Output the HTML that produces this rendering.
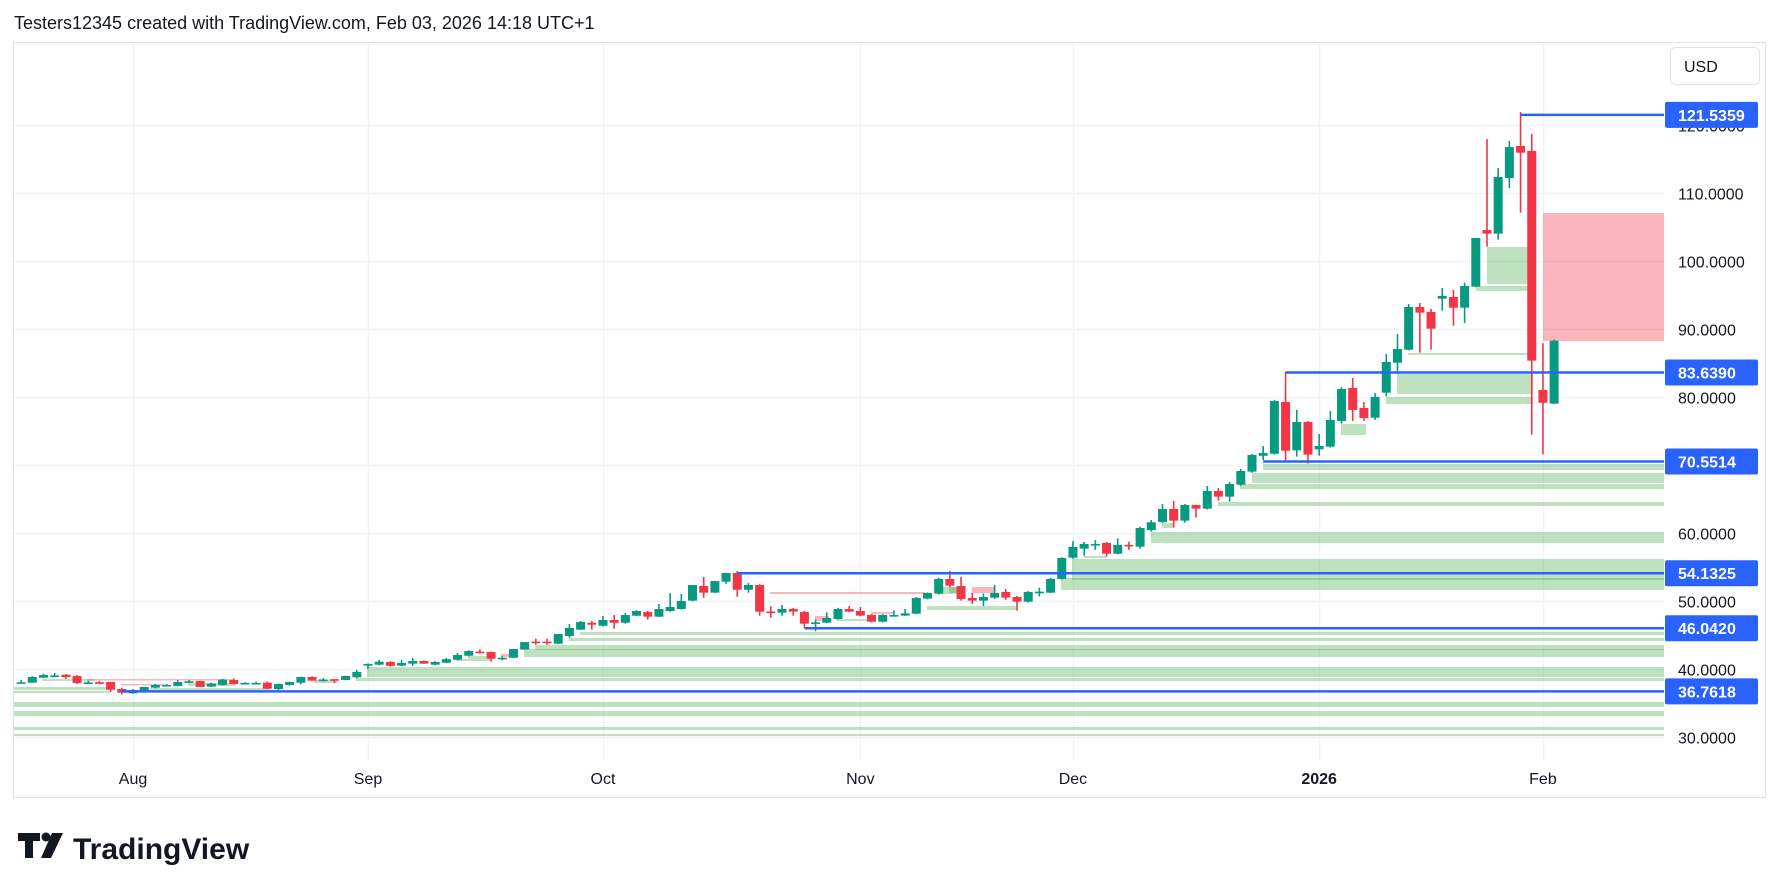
<!DOCTYPE html>
<html>
<head>
<meta charset="utf-8">
<style>
  html,body{margin:0;padding:0;background:#fff;}
  body{width:1781px;height:886px;overflow:hidden;font-family:"Liberation Sans",sans-serif;}
  svg text{font-family:"Liberation Sans",sans-serif;}
</style>
</head>
<body>
<svg id="chart" width="1781" height="886" viewBox="0 0 1781 886" xmlns="http://www.w3.org/2000/svg">
  <text x="14" y="29" font-size="18" fill="#131722">Testers12345 created with TradingView.com, Feb 03, 2026 14:18 UTC+1</text>
  <rect x="13.5" y="42.5" width="1752" height="755" fill="#fff" stroke="#e0e3eb"/>
  <g id="grid"></g>
  <g id="zones"></g>
  <g id="candles"></g>
  <g id="levels"></g>
  <g id="axes"></g>
  <g>
    <rect x="1670.5" y="47.5" width="89" height="37" rx="5" fill="#fff" stroke="#e0e3eb"/>
    <text x="1684" y="72" font-size="16" fill="#131722">USD</text>
  </g>
  <g>
    <path d="M18 833 h22 v8 h-7 v17 h-8 v-17 h-7 z" fill="#131722"/>
    <circle cx="46" cy="837" r="4.5" fill="#131722"/>
    <path d="M52 833 h11 l-12 25 h-10 z" fill="#131722"/>
    <text x="73" y="859" font-size="30" font-weight="bold" fill="#131722">TradingView</text>
  </g>
</svg>
<script>
const opens  = [38.0,38.03,38.77,39.05,39.2,39.0,37.95,38.1,38.13,37.1,36.47,36.8,37.3,37.65,37.55,38.2,38.28,37.45,37.7,38.43,37.95,37.95,38.03,37.1,37.7,38.03,38.87,38.45,38.55,38.43,38.82,40.7,40.68,41.07,40.54,40.83,41.22,40.68,40.97,41.41,42.0,42.6,42.54,41.6,41.7,42.9,44.07,44.07,43.77,44.9,45.83,46.85,46.41,47.25,46.85,47.88,48.42,47.74,48.57,48.86,50.1,52.25,51.27,52.88,54.16,51.7,52.4,48.5,48.33,48.87,48.43,46.85,46.86,47.4,48.87,48.58,48.0,47.0,47.95,47.9,48.18,50.4,51.13,53.28,52.25,50.49,50.1,50.54,51.37,50.63,49.95,51.4,51.27,53.28,56.42,57.74,58.38,58.58,57.0,58.3,58.04,60.49,61.67,63.58,61.86,64.17,63.63,66.22,65.39,67.15,69.07,71.4,71.7,79.31,72.2,76.37,72.35,72.74,76.52,81.37,78.43,77.0,80.68,85.09,87.0,93.28,92.55,94.5,94.75,93.18,96.27,104.6,104.07,112.25,116.96,116.22,81.07,79.07];
const highs  = [38.4,39.0,39.36,39.45,39.3,39.16,38.3,38.3,38.15,37.3,37.1,37.4,37.84,37.84,38.43,38.43,38.3,38.03,38.6,38.67,38.1,38.2,38.2,37.9,38.2,38.9,38.97,38.7,38.55,39.05,39.9,40.88,41.37,41.2,41.37,41.66,41.3,41.2,41.66,42.4,42.8,42.93,42.6,41.9,43.0,44.0,44.5,44.5,45.2,46.66,47.1,47.1,47.84,47.98,48.3,48.7,48.57,49.6,51.2,51.07,52.4,53.57,53.0,54.2,54.45,52.7,52.5,49.26,49.45,49.0,48.6,47.3,48.38,49.0,49.3,49.16,48.1,48.1,48.67,48.87,50.63,51.3,53.48,54.46,53.6,51.22,51.17,52.4,51.81,50.78,51.5,52.0,53.43,56.47,58.87,58.72,59.02,58.72,59.26,58.77,60.98,61.96,64.31,64.75,64.3,64.2,66.96,66.67,67.55,69.46,71.67,72.84,79.6,83.77,78.14,76.5,74.6,77.99,81.5,82.84,79.3,80.63,86.37,89.3,93.72,93.87,92.99,96.07,95.78,96.86,103.43,117.98,113.72,117.7,121.95,118.72,87.94,88.5];
const lows   = [37.9,38.0,38.7,38.9,38.58,37.84,37.9,37.9,36.66,36.3,36.4,36.7,37.2,37.55,37.5,38.0,37.4,37.4,37.6,37.8,37.9,37.85,37.1,36.96,37.6,37.79,38.3,38.2,38.0,38.4,38.67,40.05,40.6,40.4,40.5,40.5,40.8,40.6,40.9,41.3,41.9,42.3,41.12,41.3,41.7,42.9,43.6,43.6,43.7,44.65,45.8,45.83,46.3,45.97,46.7,47.8,47.3,47.7,48.47,48.8,50.0,50.53,51.2,52.59,50.68,51.27,47.88,47.59,47.88,47.88,46.13,45.6,46.8,47.3,48.4,47.8,46.9,46.9,47.74,47.85,48.1,50.3,51.0,52.06,50.1,49.6,49.31,50.34,50.24,48.63,49.8,50.7,51.2,53.2,56.22,56.71,57.55,56.57,56.9,57.55,57.74,60.25,61.5,60.83,61.57,62.3,63.5,64.8,64.66,67.0,68.9,70.78,71.6,70.68,71.27,70.25,71.42,72.6,76.13,76.52,76.5,76.66,80.14,83.5,86.9,86.56,87.0,92.74,90.53,90.93,96.2,102.15,103.2,110.78,107.15,74.5,71.6,79.0];
const closes = [38.1,38.87,39.16,39.1,38.87,37.99,38.08,38.0,37.0,36.57,36.96,37.4,37.7,37.7,38.13,38.25,37.4,37.89,38.48,37.84,38.0,38.0,37.15,37.84,38.13,38.87,38.33,38.5,38.5,39.02,39.6,40.78,41.12,40.5,40.93,41.22,40.83,41.07,41.5,42.1,42.69,42.55,41.56,41.7,42.98,44.0,44.0,44.0,45.19,46.07,46.95,46.56,47.25,46.85,47.98,48.57,47.74,48.86,49.16,50.04,52.4,51.27,52.98,54.16,51.7,52.4,48.47,48.47,48.87,48.48,46.71,46.9,47.55,48.87,48.48,47.9,47.0,48.0,47.98,48.23,50.49,51.22,53.28,52.3,50.34,50.1,50.63,51.22,50.54,49.95,51.37,51.42,53.28,56.37,57.99,58.43,58.43,57.0,58.28,58.28,60.78,61.62,63.58,61.86,64.17,63.63,66.22,65.39,67.25,69.17,71.52,71.8,79.46,72.15,76.37,71.57,72.84,76.66,81.22,78.14,76.95,80.04,85.19,87.1,93.28,92.45,90.09,94.9,93.18,96.37,103.43,104.07,112.4,116.8,115.97,85.39,79.2,88.33];
const firstIndex = -10;
const priceTicks = [30,40,50,60,70,80,90,100,110,120];
const priceTickLabels = ["30.0000","40.0000","50.0000","60.0000","70.0000","80.0000","90.0000","100.0000","110.0000","120.0000"];
const monthBarIndex = [0,21,42,65,84,106,126];
const monthLabels = ["Aug","Sep","Oct","Nov","Dec","2026","Feb"];
const levelPrices = [121.5359,83.6390,70.5514,54.1325,46.0420,36.7618];
const levelLabels = ["121.5359","83.6390","70.5514","54.1325","46.0420","36.7618"];
const levelStartBar = [124,103,101,54,60,-1];

const NS = "http://www.w3.org/2000/svg";
const PLOT_L = 14, PLOT_R = 1664, PLOT_T = 43, PLOT_B = 760;
function xOf(i){ return 133 + i*11.19; }
function yOf(p){ return 397.3 - (p-80)*6.8; }
function mk(tag, attrs, parent){
  const el = document.createElementNS(NS, tag);
  for (const k in attrs) el.setAttribute(k, attrs[k]);
  parent.appendChild(el);
  return el;
}

const grid = document.getElementById('grid');
priceTicks.forEach((p)=>{
  const y = Math.round(yOf(p))+0.5;
  if (y < PLOT_T || y > PLOT_B) return;
  const l = mk('line',{x1:PLOT_L,x2:PLOT_R,y1:y,y2:y,stroke:'#f0f3fa','stroke-width':1.5},grid);
  
  
});
monthBarIndex.forEach((bi)=>{
  const x = Math.round(xOf(bi))+0.5;
  const l = mk('line',{x1:x,x2:x,y1:PLOT_T,y2:PLOT_B,stroke:'#f0f3fa','stroke-width':1.5},grid);
  
  
});

const zonesG = document.getElementById('zones');
const E = PLOT_R;
const greenZones = [[1487,247,1528,284],[1476,286,1528,291],[1408,353,1528,355],[1397,374,1533,394],[1386,397,1533,404],[1341,424,1366,435],
[1263,464,E,470],[1252,473,E,483],[1240,484,E,489],[1218,502,E,506],[1151,532,E,543],[1162,523,1173,528],
[1072,559,E,580],[1061,578,E,590],[1084,556,1106,558],[927,606,1016,610],[938,587,962,594],[949,587,958,593],
[837,619,870,621],[580,632,E,635],[569,638,E,641],[535,645,E,650],[524,649,E,657],[457,659,490,661],[468,656,490,659],
[367,667,E,677],[356,678,E,681],[14,687,109,690],[14,691,110,693],[14,702,E,707],[14,711,E,716],[14,727,E,730],[14,734,E,736],
[42,679,95,681],[150,688,270,690],[188,683,236,686],[314,680,337,683]];
greenZones.forEach(z=>{
  const r = mk('rect',{x:z[0],y:z[1],width:z[2]-z[0],height:z[3]-z[1],fill:'#4caf50','fill-opacity':0.36},zonesG);
  
  
});
const pinkZones = [[1543,213,1664,341],[972,587,994,593],[815,616,829,621],[871,612,893,614],[501,654,509,657],[770,592,925,594],[87,679,233,680.5],[121,684,164,685.5]];
pinkZones.forEach(z=>{
  const r = mk('rect',{x:z[0],y:z[1],width:z[2]-z[0],height:z[3]-z[1],fill:'#f23645','fill-opacity':0.36},zonesG);
  
  
});

const cg = document.getElementById('candles');
for (let k=0;k<opens.length;k++){
  const i = firstIndex + k;
  const x = xOf(i);
  const o=opens[k], h=highs[k], l=lows[k], c=closes[k];
  const col = c >= o ? '#089981' : '#f23645';
  const g = mk('g',{},cg);
  
  
  mk('line',{x1:x,x2:x,y1:yOf(h),y2:yOf(l),stroke:col,'stroke-width':1.6},g);
  const top = yOf(Math.max(o,c)), bot = yOf(Math.min(o,c));
  mk('rect',{x:x-4.5,y:top,width:9,height:Math.max(bot-top,1.6),fill:col},g);
}

const lv = document.getElementById('levels');
levelPrices.forEach((p,k)=>{
  const y = yOf(p);
  const x1 = Math.max(PLOT_L, xOf(levelStartBar[k]));
  const l = mk('line',{x1:x1,x2:PLOT_R,y1:y,y2:y,stroke:'#2962ff','stroke-width':2.5},lv);
  
  
});

const ax = document.getElementById('axes');
mk('rect',{x:PLOT_R+0.5,y:43,width:100,height:754,fill:'#fff'},ax);
mk('rect',{x:14,y:PLOT_B,width:1650,height:37,fill:'#fff'},ax);
priceTicks.forEach((p,k)=>{
  const y = yOf(p);
  if (y < 50 || y > PLOT_B) return;
  const t = mk('text',{x:1678,y:y+6,'font-size':16,fill:'#131722'},ax);
  t.textContent = priceTickLabels[k];
  
  
});
monthBarIndex.forEach((bi,k)=>{
  const t = mk('text',{x:xOf(bi),y:784,'font-size':16,fill:'#131722','text-anchor':'middle','font-weight':monthLabels[k]==='2026'?'bold':'normal'},ax);
  t.textContent = monthLabels[k];
  
  
});
levelPrices.forEach((p,k)=>{
  const y = yOf(p);
  const g = mk('g',{},ax);
  
  
  mk('rect',{x:1665,y:y-13,width:93,height:26,rx:2,fill:'#2962ff'},g);
  const t = mk('text',{x:1678,y:y+6,'font-size':16,'font-weight':'bold',fill:'#fff'},g);
  t.textContent = levelLabels[k];
});
</script>
</body>
</html>
